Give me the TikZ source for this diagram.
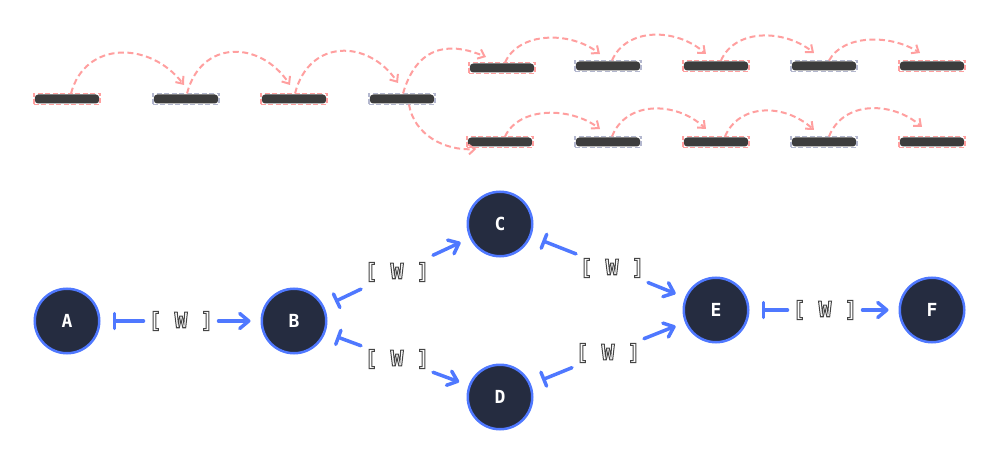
\documentclass[tikz,border=0pt]{standalone}
\usepackage{fontspec}
\setmonofont{DejaVu Sans Mono}
\usetikzlibrary{arrows.meta,calc}
\definecolor{pinkline}{HTML}{FF9F9F}
\definecolor{greyline}{HTML}{B3B7CE}
\definecolor{barfill}{HTML}{3D3D3D}
\definecolor{wireblue}{HTML}{4F78FF}
\definecolor{circfill}{HTML}{252C40}
\newcommand{\outlined}[1]{\special{pdf:code q 2 Tr 1 w 0.27 0.27 0.27 RG 1 1 1 rg}#1\special{pdf:code Q}}
\tikzset{
  x=1pt,y=-1pt,
  barbase/.style={rectangle,minimum width=66.5pt,minimum height=11pt,inner sep=0pt,outer sep=0pt,dash pattern=on 5pt off 2.5pt,line width=1.6pt,
    path picture={\fill[barfill,rounded corners=3.5pt] ([xshift=1pt,yshift=1pt]path picture bounding box.south west) rectangle ([xshift=-1pt,yshift=-1pt]path picture bounding box.north east);}},
  pinkbar/.style={barbase,draw=pinkline},
  greybar/.style={barbase,draw=greyline},
  hop/.style={draw=pinkline,line width=2pt,dash pattern=on 6pt off 3.5pt,-{Straight Barb[length=6pt,width=10pt,line width=2pt]}},
  vertex/.style={circle,draw=wireblue,fill=circfill,line width=2.5pt,minimum size=64.5pt,inner sep=0pt,text=white,font=\ttfamily\bfseries\fontsize{18}{18}\selectfont},
  weight/.style={rectangle,inner sep=0pt,outer sep=0pt,minimum width=75pt,minimum height=30pt,font=\ttfamily\bfseries\fontsize{21.5}{22}\selectfont},
  weightd/.style={weight,minimum width=72pt,minimum height=36pt},
  wire/.style={draw=wireblue,line width=3.5pt,line cap=round},
  toarrow/.style={wire,-{Straight Barb[length=9pt,width=15pt,line width=3.5pt,round]},shorten >=10pt},
  tobar/.style={wire,-{Bar[width=15pt,line width=3.5pt,round]},shorten >=12pt},
}
\begin{document}
\begin{tikzpicture}
\useasboundingbox (0,0) rectangle (1000,462);
% bars
\node[pinkbar] (a1) at (67,99) {};
\node[greybar] (a2) at (186,99) {};
\node[pinkbar] (a3) at (294,99) {};
\node[greybar] (a4) at (402,99) {};
\node[pinkbar] (u1) at (502,68) {};
\node[greybar] (u2) at (608,66) {};
\node[pinkbar] (u3) at (716,66) {};
\node[greybar] (u4) at (824,66) {};
\node[pinkbar] (u5) at (932,66) {};
\node[pinkbar] (l1) at (500,142) {};
\node[greybar] (l2) at (608,142) {};
\node[pinkbar] (l3) at (716,142) {};
\node[greybar] (l4) at (824,142) {};
\node[pinkbar] (l5) at (932,142) {};
% hops
\draw[hop] ([xshift=4pt]a1.north) .. controls +(14,-53) and +(-34,-44) .. ([xshift=-2pt,yshift=8.5pt]a2.north);
\draw[hop] ([xshift=1pt]a2.north) .. controls +(14,-54) and +(-30,-45) .. ([xshift=-4pt,yshift=8.5pt]a3.north);
\draw[hop] ([xshift=1pt]a3.north) .. controls +(14,-55) and +(-30,-44) .. ([xshift=-4pt,yshift=10.5pt]a4.north);
\draw[hop] ([xshift=1pt]a4.north) .. controls +(16,-55) and +(-28,-12) .. ([xshift=-16pt,yshift=5.5pt]u1.north);
\draw[hop] ([xshift=7pt]a4.south) .. controls +(5,30) and +(-32,2) .. ([xshift=9.5pt,yshift=-7pt]l1.west);
\draw[hop] ([xshift=3pt]u1.north) .. controls +(14,-31) and +(-30,-23) .. ([xshift=-8pt,yshift=6.5pt]u2.north);
\draw[hop] ([xshift=4pt]u2.north) .. controls +(14,-33) and +(-30,-26.5) .. ([xshift=-10pt,yshift=6.5pt]u3.north);
\draw[hop] ([xshift=5pt]u3.north) .. controls +(14,-32) and +(-30,-24) .. ([xshift=-10pt,yshift=7.5pt]u4.north);
\draw[hop] ([xshift=5pt]u4.north) .. controls +(14,-26) and +(-30,-19) .. ([xshift=-12pt,yshift=7.5pt]u5.north);
\draw[hop] ([xshift=5pt]l1.north) .. controls +(14,-30) and +(-30,-22.5) .. ([xshift=-8pt,yshift=7.5pt]l2.north);
\draw[hop] ([xshift=4pt]l2.north) .. controls +(14,-36) and +(-30,-28) .. ([xshift=-10pt,yshift=7.5pt]l3.north);
\draw[hop] ([xshift=9pt]l3.north) .. controls +(14,-33) and +(-30,-27) .. ([xshift=-10pt,yshift=6.5pt]l4.north);
\draw[hop] ([xshift=5pt]l4.north) .. controls +(14,-36) and +(-30,-26) .. ([xshift=-10pt,yshift=9.5pt]l5.north);
% vertices
\node[vertex] (A) at (67,321) {\raisebox{-1pt}{A}};
\node[vertex] (B) at (294,321) {\raisebox{-1pt}{B}};
\node[vertex] (C) at (500,224) {\raisebox{-1pt}{C}};
\node[vertex] (D) at (500,397) {\raisebox{-1pt}{D}};
\node[vertex] (E) at (716,310) {\raisebox{-1pt}{E}};
\node[vertex] (F) at (932,310) {\raisebox{-1pt}{F}};
% weights
\node[weight] (wab) at (181,321) {\raisebox{-1pt}{\outlined{[ W ]}}};
\node[weightd] (wbc) at (397,272) {\raisebox{-1pt}{\outlined{[ W ]}}};
\node[weightd] (wbd) at (397,359) {\raisebox{-1pt}{\outlined{[ W ]}}};
\node[weightd] (wce) at (612,268) {\raisebox{-1pt}{\outlined{[ W ]}}};
\node[weightd] (wde) at (608,353) {\raisebox{-1pt}{\outlined{[ W ]}}};
\node[weight] (wef) at (825,310) {\raisebox{-1pt}{\outlined{[ W ]}}};
% connectors
\draw[tobar] (wab) -- (A);  \draw[toarrow] (wab) -- (B);
\draw[tobar] (wbc) -- (B);  \draw[toarrow] (wbc) -- (C);
\draw[tobar] (wbd) -- (B);  \draw[toarrow] (wbd) -- (D);
\draw[tobar] (wce) -- (C);  \draw[toarrow] (wce) -- (E);
\draw[tobar] (wde) -- (D);  \draw[toarrow] (wde) -- (E);
\draw[tobar] (wef) -- (E);  \draw[toarrow] (wef) -- (F);
\end{tikzpicture}
\end{document}
